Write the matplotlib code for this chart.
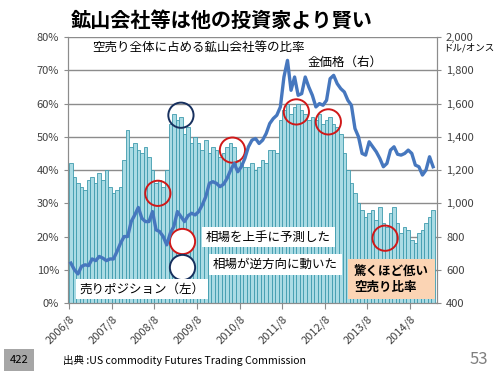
import matplotlib
matplotlib.use("Agg")
import matplotlib.pyplot as plt
from matplotlib.ticker import FuncFormatter, MultipleLocator

plt.rcParams['font.family'] = ['Noto Sans CJK JP', 'DejaVu Sans']

# monthly data from 2006/8 (index 0) to 2015/2 (index 102)
short_ratio = [42, 38, 36, 35, 34, 37, 38, 36, 39, 37,
               40, 35, 33, 34, 35, 43, 52, 47, 48, 46,
               45, 47, 44, 40, 36, 37, 35, 40, 54, 57,
               55, 56, 51, 53, 48, 50, 48, 46, 49, 45,
               47, 46, 44, 45, 47, 48, 47, 43, 42, 41,
               41, 42, 40, 41, 43, 42, 46, 46, 45, 55,
               58, 60, 57, 59, 60, 58, 57, 55, 56, 55,
               57, 54, 55, 56, 54, 53, 51, 45, 40, 36,
               33, 30, 28, 26, 27, 28, 25, 29, 24, 23,
               27, 29, 24, 21, 23, 22, 19, 18, 21, 22,
               24, 26, 28]
gold_price = [640, 600, 575, 620, 630, 625, 665, 655, 680, 670,
              655, 665, 665, 710, 760, 800, 800, 890, 930, 975,
              910, 890, 890, 950, 840, 830, 800, 750, 820, 860,
              950, 920, 890, 925, 940, 930, 950, 990, 1040, 1120,
              1130, 1120, 1100, 1115, 1150, 1200, 1240, 1190, 1220, 1270,
              1340, 1380, 1390, 1360, 1380, 1420, 1480, 1510, 1530, 1580,
              1760, 1860, 1680, 1760, 1650, 1660, 1760, 1700, 1650, 1580,
              1600, 1590, 1620, 1750, 1770, 1720, 1690, 1670, 1620, 1590,
              1450, 1400, 1300, 1290, 1370, 1340, 1310, 1270, 1220, 1240,
              1320, 1340, 1295, 1290, 1300, 1320, 1300, 1230, 1220, 1170,
              1200, 1280, 1220]
tick_labels = ['2006/8', '2007/8', '2008/8', '2009/8', '2010/8',
               '2011/8', '2012/8', '2013/8', '2014/8']
tick_months = [0, 12, 24, 36, 48, 60, 72, 84, 96]

# circle annotations: (month index, ratio %)
red_circles_m = [25, 46, 64, 73, 89]
red_circles_v = [33, 46, 57.5, 54.5, 19.5]
blue_circles_m = [31.5]
blue_circles_v = [56.5]

months = list(range(len(short_ratio)))

fig = plt.figure(figsize=(5, 3.75), dpi=100)
ax = fig.add_axes([0.136, 0.192, 0.738, 0.709])
ax2 = ax.twinx()

ax.set_ylim(0, 80)
ax.set_xlim(-0.3, 103.6)
ax2.set_ylim(400, 2000)

ax.yaxis.set_major_locator(MultipleLocator(10))
ax.yaxis.set_major_formatter(FuncFormatter(lambda v, p: f"{int(v)}%"))
ax2.yaxis.set_major_locator(MultipleLocator(200))
ax2.yaxis.set_major_formatter(FuncFormatter(lambda v, p: f"{int(v):,}"))

ax.grid(axis='y', color='#8c8c8c', linewidth=1.0)
ax.set_axisbelow(True)

ax.bar(months, short_ratio, width=1.0, align='edge', color='#aadbe4',
       edgecolor='#3f9bae', linewidth=0.6, zorder=2)
ax2.plot([m + 0.5 for m in months], gold_price, color='#4677be', linewidth=2.4,
         solid_joinstyle='round', zorder=3)

ax.set_xticks(tick_months)
ax.set_xticklabels(tick_labels, rotation=45, ha='right', va='top',
                   rotation_mode='anchor', fontsize=8, color='#404040')
for a in (ax, ax2):
    for s in a.spines.values():
        s.set_color('#8c8c8c')
    a.spines['top'].set_visible(False)
ax.tick_params(axis='y', labelsize=8, labelcolor='#404040', color='#8c8c8c', length=3)
ax2.tick_params(axis='y', labelsize=8, labelcolor='#404040', color='#8c8c8c', length=3)
ax.tick_params(axis='x', color='#8c8c8c', length=4)

# circles
ax.scatter(red_circles_m, red_circles_v, s=330, facecolors='none',
           edgecolors='#d01818', linewidths=1.4, zorder=5)
ax.scatter(blue_circles_m, blue_circles_v, s=330, facecolors='none',
           edgecolors='#17305e', linewidths=1.4, zorder=5)
# legend circles
ax.scatter([31.7], [18.6], s=330, facecolors='white',
           edgecolors='#d01818', linewidths=1.4, zorder=5)
ax.scatter([31.7], [10.8], s=330, facecolors='white',
           edgecolors='#17305e', linewidths=1.4, zorder=5)

# text boxes inside the plot
box_w = dict(boxstyle='square,pad=0.3', facecolor='white', edgecolor='none')
ax.text(3.0, 4.2, '売りポジション（左）', fontsize=9, ha='left', va='center',
        bbox=box_w, zorder=6)
ax.text(38.5, 19.8, '相場を上手に予測した', fontsize=9, ha='left', va='center',
        bbox=box_w, zorder=6)
ax.text(40.5, 11.6, '相場が逆方向に動いた', fontsize=9, ha='left', va='center',
        bbox=box_w, zorder=6)
ax.text(80.2, 7.2, '驚くほど低い\n空売り比率', fontsize=9, ha='left', va='center',
        fontweight='bold', linespacing=1.3,
        bbox=dict(boxstyle='square,pad=0.45', facecolor='#fbd4b4', edgecolor='none'),
        zorder=6)

fig.text(0.184, 0.872, '空売り全体に占める鉱山会社等の比率', fontsize=9, ha='left', va='center')
fig.text(0.616, 0.834, '金価格（右）', fontsize=9, ha='left', va='center')
fig.text(0.886, 0.872, 'ドル/オンス', fontsize=6.8, ha='left', va='center')

fig.text(0.142, 0.945, '鉱山会社等は他の投資家より賢い', fontsize=14.5,
         fontweight='bold', ha='left', va='center')

fig.text(0.038, 0.040, '422', fontsize=8, ha='center', va='center',
         bbox=dict(boxstyle='square,pad=0.5', facecolor='#a6a6a6', edgecolor='none'))
fig.text(0.126, 0.040, '出典 :US commodity Futures Trading Commission', fontsize=7.6,
         ha='left', va='center')
fig.text(0.958, 0.040, '53', fontsize=12, color='#7f7f7f', ha='center', va='center')

fig.savefig('out.png', dpi=100)
